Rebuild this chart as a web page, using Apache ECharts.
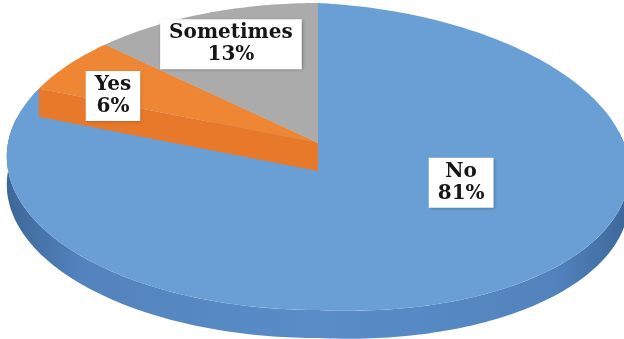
<!DOCTYPE html>
<html>
<head>
<meta charset="utf-8">
<script src="https://cdn.jsdelivr.net/npm/echarts@6/dist/echarts.min.js"></script>
<style>
  html, body { margin: 0; padding: 0; background: #ffffff; }
  #chart { width: 624px; height: 339px; }
</style>
</head>
<body>
<div id="chart"></div>
<script>
// Answers and their share of respondents (percent)
const categories = ['No', 'Yes', 'Sometimes'];
const values = [81, 6, 13];

// Where each label sits on the disc: [angle in degrees clockwise from 12 o'clock, radius fraction]
const labelSpots = [[115, 0.5], [295, 0.75], [336.6, 0.75]];

// Slice colours: top surface and the darker cut faces
const topColors = ['#6a9fd6', '#ef8633', '#ababab'];
const faceColors = ['#4e7fb6', '#e8782a', '#8e8e8e'];

// Tilted disc as seen on the page (with a little perspective)
const view = { cx: 318, cy: 143, rx: 310, ry: 152.3, persp: 0.088, lean: 15, depth: 28 };

function project(r, deg, drop) {
  const a = deg * Math.PI / 180;
  const u = r * Math.sin(a);
  const v = r * Math.cos(a);
  const q = 1 + view.persp * v;
  return [
    view.cx + view.rx * u / q,
    view.cy - view.ry * v / q + view.lean * Math.max(0, u / q) + (drop || 0)
  ];
}

function arc(a0, a1, drop) {
  const pts = [];
  const n = Math.max(2, Math.ceil(Math.abs(a1 - a0)));
  for (let k = 0; k <= n; k++) pts.push(project(1, a0 + (a1 - a0) * k / n, drop));
  return pts;
}

const total = values.reduce((s, v) => s + v, 0);
const starts = [];
values.reduce((acc, v, i) => { starts[i] = acc; return acc + v / total * 360; }, 0);

// Paint the larger slices first, the smaller ones over them
const rank = values.map((v, i) => i)
  .sort((a, b) => values[b] - values[a])
  .reduce((m, idx, pos) => { m[idx] = pos; return m; }, {});

function radialFace(deg, z2, color) {
  return {
    type: 'polygon',
    z2: z2,
    shape: { points: [project(0, 0), project(1, deg), project(1, deg, view.depth), project(0, 0, view.depth)] },
    style: { fill: color }
  };
}

function renderSlice(params, api) {
  const i = params.dataIndex;
  const val = api.value(1);
  const a0 = starts[i];
  const a1 = a0 + val / total * 360;
  const base = rank[i] * 10;
  const children = [];

  // outer rim, only where it turns towards the viewer
  const s0 = Math.max(a0, 80), s1 = Math.min(a1, 280);
  if (s1 > s0) {
    const topEdge = arc(s0, s1, 0);
    const lowEdge = arc(s0, s1, view.depth).reverse();
    children.push({
      type: 'polygon',
      z2: base,
      shape: { points: topEdge.concat(lowEdge) },
      style: {
        fill: new echarts.graphic.LinearGradient(0, 0, 1, 0, [
          { offset: 0, color: '#3d6799' },
          { offset: 0.12, color: '#5283bd' },
          { offset: 0.5, color: '#5a8dc8' },
          { offset: 0.88, color: '#5283bd' },
          { offset: 1, color: '#3d6799' }
        ])
      }
    });
  }

  // cut faces along the slice edges that face the viewer
  const rad = Math.PI / 180;
  if (Math.cos((a0 - 90) * rad) < -0.05) children.push(radialFace(a0, base + 1, faceColors[i]));
  if (Math.cos((a1 + 90) * rad) < -0.05) children.push(radialFace(a1, base + 1, faceColors[i]));

  // top surface
  children.push({
    type: 'polygon',
    z2: base + 2,
    shape: { points: [project(0, 0)].concat(arc(a0, a1, 0)) },
    style: { fill: topColors[i] }
  });

  // value label
  const spot = labelSpots[i];
  const p = project(spot[1], spot[0]);
  const pct = Math.round(val / total * 100);
  children.push({
    type: 'text',
    z2: 100,
    x: p[0],
    y: p[1],
    style: {
      text: api.value(0) + '\n' + pct + '%',
      font: 'bold 20px "DejaVu Serif", "Liberation Serif", serif',
      fill: '#161616',
      align: 'center',
      verticalAlign: 'middle',
      lineHeight: 22,
      backgroundColor: '#ffffff',
      padding: [3, 9, 3, 9],
      shadowColor: 'rgba(0,0,0,0.28)',
      shadowBlur: 3,
      shadowOffsetX: 1,
      shadowOffsetY: 1
    }
  });

  return { type: 'group', children: children };
}

const chart = echarts.init(document.getElementById('chart'), null, { renderer: 'canvas' });
chart.setOption({
  animation: false,
  backgroundColor: '#ffffff',
  series: [{
    type: 'custom',
    coordinateSystem: 'none',
    renderItem: renderSlice,
    data: categories.map((c, i) => [c, values[i]])
  }]
});
</script>
</body>
</html>
